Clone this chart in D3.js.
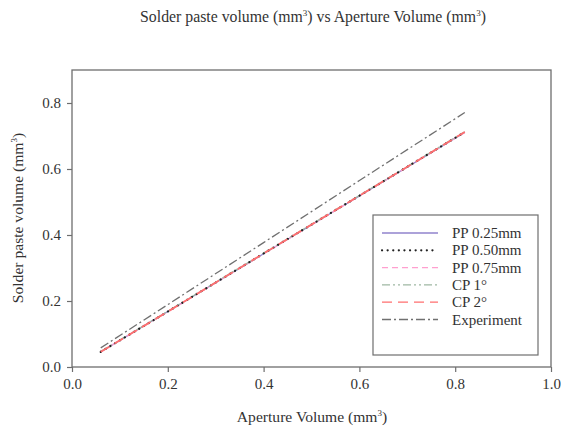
<!DOCTYPE html>
<html>
<head>
<meta charset="utf-8">
<script src="https://cdn.jsdelivr.net/npm/d3@7"></script>
<style>
  body { margin: 0; background: #fff; }
  text { font-family: "Liberation Serif", "Times New Roman", serif; fill: #333; }
</style>
</head>
<body>
<div id="chart"></div>
<script>
const apertureVolume = [0.06, 0.2, 0.4, 0.6, 0.82];
const pp025 = [0.046, 0.168, 0.343, 0.518, 0.711];
const pp050 = [0.046, 0.168, 0.344, 0.519, 0.712];
const pp075 = [0.046, 0.167, 0.343, 0.518, 0.711];
const cp1 = [0.047, 0.169, 0.345, 0.520, 0.713];
const cp2 = [0.046, 0.168, 0.344, 0.519, 0.712];
const experiment = [0.058, 0.189, 0.377, 0.565, 0.771];
const xTicks = [0, 0.2, 0.4, 0.6, 0.8, 1.0];
const yTicks = [0, 0.2, 0.4, 0.6, 0.8];

const series = [
  { name: "PP 0.25mm", values: pp025, color: "#9083cc", dash: null, width: 1.3 },
  { name: "PP 0.50mm", values: pp050, color: "#222", dash: "0.1,5.5", width: 2.2 },
  { name: "PP 0.75mm", values: pp075, color: "#ff9fcf", dash: "6,4", width: 1.3 },
  { name: "CP 1°", values: cp1, color: "#9fb8a3", dash: "8,3,2,3,2,3", width: 1.3 },
  { name: "CP 2°", values: cp2, color: "#ff6f6f", dash: "10,6", width: 1.3 },
  { name: "Experiment", values: experiment, color: "#707070", dash: "9,3,2,3", width: 1.3 }
];
// draw order: dotted black under, red on top, as in the picture
const drawOrder = [0, 2, 3, 5, 1, 4];

const width = 561;
const height = 429;
const margin = { top: 70, right: 10, bottom: 62, left: 72 };

const svg = d3.select("#chart")
  .append("svg")
  .attr("width", width)
  .attr("height", height);

const x = d3.scaleLinear().domain([0, 1]).range([margin.left, 551]);
const y = d3.scaleLinear().domain([0, 0.9]).range([367, margin.top]);

// frame
svg.append("rect")
  .attr("x", x(0))
  .attr("y", y(0.9))
  .attr("width", x(1) - x(0))
  .attr("height", y(0) - y(0.9))
  .attr("fill", "none")
  .attr("stroke", "#6e6e6e")
  .attr("stroke-width", 1.3);

const xAxis = svg.append("g")
  .attr("transform", `translate(0,${y(0)})`)
  .call(d3.axisBottom(x).tickValues(xTicks).tickFormat(d3.format(".1f")).tickSize(5).tickPadding(6));

const yAxis = svg.append("g")
  .attr("transform", `translate(${x(0)},0)`)
  .call(d3.axisLeft(y).tickValues(yTicks).tickFormat(d3.format(".1f")).tickSize(5).tickPadding(6));

[xAxis, yAxis].forEach(a => {
  a.select(".domain").remove();
  a.selectAll("line").attr("stroke", "#6e6e6e").attr("stroke-width", 1.2);
  a.selectAll("text")
    .style("font-family", "'Liberation Serif', serif")
    .style("font-size", "15px")
    .attr("fill", "#4a4a4a");
});

const line = d3.line()
  .x((d, i) => x(apertureVolume[i]))
  .y(d => y(d));

drawOrder.forEach(k => {
  const s = series[k];
  svg.append("path")
    .datum(s.values)
    .attr("fill", "none")
    .attr("stroke", s.color)
    .attr("stroke-width", k === 4 ? 1.8 : s.width)
    .attr("stroke-dasharray", s.dash)
    .attr("stroke-linecap", k === 1 ? "round" : "butt")
    .attr("d", line);
});

// legend
const legend = svg.append("g");
legend.append("rect")
  .attr("x", 373)
  .attr("y", 215)
  .attr("width", 165)
  .attr("height", 140)
  .attr("fill", "#fff")
  .attr("stroke", "#6e6e6e")
  .attr("stroke-width", 1.2);

series.forEach((s, i) => {
  const ly = 233 + i * 17.3;
  legend.append("line")
    .attr("x1", 382)
    .attr("x2", 438)
    .attr("y1", ly)
    .attr("y2", ly)
    .attr("stroke", s.color)
    .attr("stroke-width", s.width)
    .attr("stroke-dasharray", s.dash)
    .attr("stroke-linecap", i === 1 ? "round" : "butt");
  legend.append("text")
    .attr("x", 452)
    .attr("y", ly + 5)
    .style("font-size", "15px")
    .text(s.name);
});

// titles
const title = svg.append("text")
  .attr("x", 313)
  .attr("y", 22)
  .attr("text-anchor", "middle")
  .style("font-size", "15.8px");
title.append("tspan").text("Solder paste volume (mm");
title.append("tspan").attr("dy", -6).style("font-size", "9px").text("3");
title.append("tspan").attr("dy", 6).text(") vs Aperture Volume (mm");
title.append("tspan").attr("dy", -6).style("font-size", "9px").text("3");
title.append("tspan").attr("dy", 6).text(")");

const xLabel = svg.append("text")
  .attr("x", 312)
  .attr("y", 422)
  .attr("text-anchor", "middle")
  .style("font-size", "15.6px");
xLabel.append("tspan").text("Aperture Volume (mm");
xLabel.append("tspan").attr("dy", -6).style("font-size", "9px").text("3");
xLabel.append("tspan").attr("dy", 6).text(")");

const yLabel = svg.append("text")
  .attr("transform", "rotate(-90)")
  .attr("x", -218)
  .attr("y", 23)
  .attr("text-anchor", "middle")
  .style("font-size", "15.6px");
yLabel.append("tspan").text("Solder paste volume (mm");
yLabel.append("tspan").attr("dy", -6).style("font-size", "9px").text("3");
yLabel.append("tspan").attr("dy", 6).text(")");
</script>
</body>
</html>
